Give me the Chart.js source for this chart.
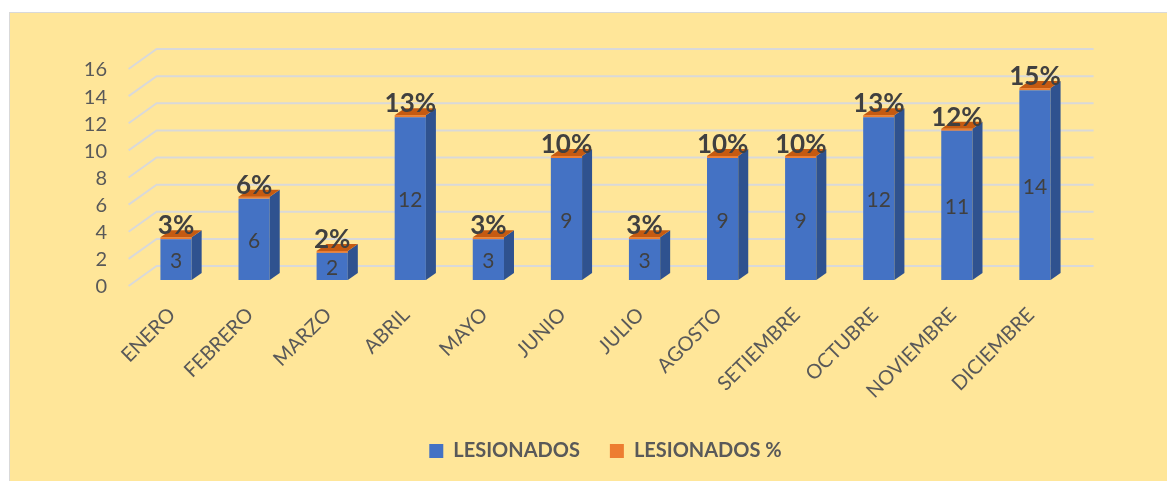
<!DOCTYPE html>
<html>
<head>
<meta charset="utf-8">
<title>Lesionados por mes</title>
<script src="https://cdn.jsdelivr.net/npm/chart.js@4.4.0/dist/chart.umd.min.js"></script>
<style>
    html, body { margin: 0; padding: 0; background: #ffffff; }
    #fondo {
        position: absolute; left: 9px; top: 12px; width: 1160px; height: 470px;
        background: #FFE699; border-left: 1px solid #D9D9D9; border-top: 1px solid #D9D9D9;
    }
    #contenedor { position: absolute; left: 0; top: 0; width: 1167px; height: 481px; }
</style>
</head>
<body>
<div id="fondo"></div>
<div id="contenedor"><canvas id="grafico"></canvas></div>
<script>
const meses = ['ENERO', 'FEBRERO', 'MARZO', 'ABRIL', 'MAYO', 'JUNIO', 'JULIO',
    'AGOSTO', 'SETIEMBRE', 'OCTUBRE', 'NOVIEMBRE', 'DICIEMBRE'];
const lesionados = [3, 6, 2, 12, 3, 9, 3, 9, 9, 12, 11, 14];
const porcentajes = [3, 6, 2, 13, 3, 10, 3, 10, 10, 13, 12, 15];
const ejeY = { min: 0, max: 16, paso: 2 };

// profundidad de las barras y de la pared del fondo (efecto 3D)
const barra3d = { dx: 10, dy: -7 };
const pared = { frenteX: -8.4, frenteY: 6, fondoX: 19.6, fondoY: -14 };

const efecto3d = {
    id: 'efecto3d',
    beforeDatasetsDraw(chart) {
        const ctx = chart.ctx;
        const area = chart.chartArea;
        const y = chart.scales.y;
        ctx.save();
        ctx.strokeStyle = '#D9D9D9';
        ctx.lineWidth = 2;
        y.ticks.forEach(t => {
            const py = y.getPixelForValue(t.value);
            ctx.beginPath();
            ctx.moveTo(area.left + pared.frenteX, py + pared.frenteY);
            ctx.lineTo(area.left + pared.fondoX, py + pared.fondoY);
            ctx.lineTo(area.right + pared.fondoX, py + pared.fondoY);
            ctx.stroke();
        });
        ctx.restore();
    },
    afterDatasetsDraw(chart) {
        const ctx = chart.ctx;
        const azules = chart.getDatasetMeta(0).data;
        const naranjas = chart.getDatasetMeta(1).data;
        ctx.save();
        azules.forEach((b, i) => {
            const n = naranjas[i];
            const izq = b.x - b.width / 2;
            const der = b.x + b.width / 2;
            const arriba = n.y;
            // cara lateral
            ctx.fillStyle = '#2F528F';
            ctx.beginPath();
            ctx.moveTo(der, b.base);
            ctx.lineTo(der, arriba);
            ctx.lineTo(der + barra3d.dx, arriba + barra3d.dy);
            ctx.lineTo(der + barra3d.dx, b.base + barra3d.dy);
            ctx.closePath();
            ctx.fill();
            // cara superior
            ctx.fillStyle = '#C55A11';
            ctx.beginPath();
            ctx.moveTo(izq, arriba);
            ctx.lineTo(der, arriba);
            ctx.lineTo(der + barra3d.dx, arriba + barra3d.dy);
            ctx.lineTo(izq + barra3d.dx, arriba + barra3d.dy);
            ctx.closePath();
            ctx.fill();

            // valor dentro de la barra
            ctx.fillStyle = '#404040';
            ctx.textAlign = 'center';
            ctx.textBaseline = 'middle';
            ctx.font = '21px Lato';
            ctx.fillText(String(lesionados[i]), b.x, (b.y + b.base) / 2 + 2);

            // porcentaje encima
            ctx.font = 'bold 26px Lato';
            ctx.textBaseline = 'alphabetic';
            ctx.fillText(porcentajes[i] + '%', b.x, arriba - 3);
        });
        ctx.restore();
    }
};

const datos = {
    labels: meses,
    datasets: [{
        label: 'LESIONADOS',
        data: lesionados,
        backgroundColor: '#4472C4',
        barPercentage: 0.4,
        categoryPercentage: 1
    }, {
        label: 'LESIONADOS %',
        data: porcentajes.map(p => p / 100),
        backgroundColor: '#ED7D31',
        barPercentage: 0.4,
        categoryPercentage: 1,
        minBarLength: 2
    }]
};

const configuracion = {
    type: 'bar',
    data: datos,
    options: {
        responsive: true,
        maintainAspectRatio: false,
        animation: false,
        layout: { padding: { left: 0, right: 93, top: 63, bottom: 10 } },
        plugins: {
            tooltip: { enabled: false },
            legend: {
                position: 'bottom',
                fullSize: false,
                labels: {
                    color: '#595959',
                    font: { family: 'Lato', size: 20, weight: 'bold' },
                    boxWidth: 14,
                    boxHeight: 14,
                    padding: 30
                }
            }
        },
        scales: {
            x: {
                stacked: true,
                grid: { display: false, drawTicks: false },
                border: { display: false },
                ticks: {
                    color: '#595959',
                    font: { family: 'Lato', size: 20 },
                    maxRotation: 45,
                    minRotation: 45,
                    padding: 23,
                    labelOffset: -4,
                    autoSkip: false
                },
                afterFit(scale) { scale.height = 131; }
            },
            y: {
                stacked: true,
                min: ejeY.min,
                max: ejeY.max,
                grid: { display: false, drawTicks: false },
                border: { display: false },
                ticks: {
                    stepSize: ejeY.paso,
                    autoSkip: false,
                    color: '#595959',
                    font: { family: 'Lato', size: 20 },
                    padding: 30,
                    labelOffset: 7
                },
                afterFit(scale) { scale.width = 137; }
            }
        }
    },
    plugins: [efecto3d]
};

new Chart(document.getElementById('grafico'), configuracion);
</script>
</body>
</html>
